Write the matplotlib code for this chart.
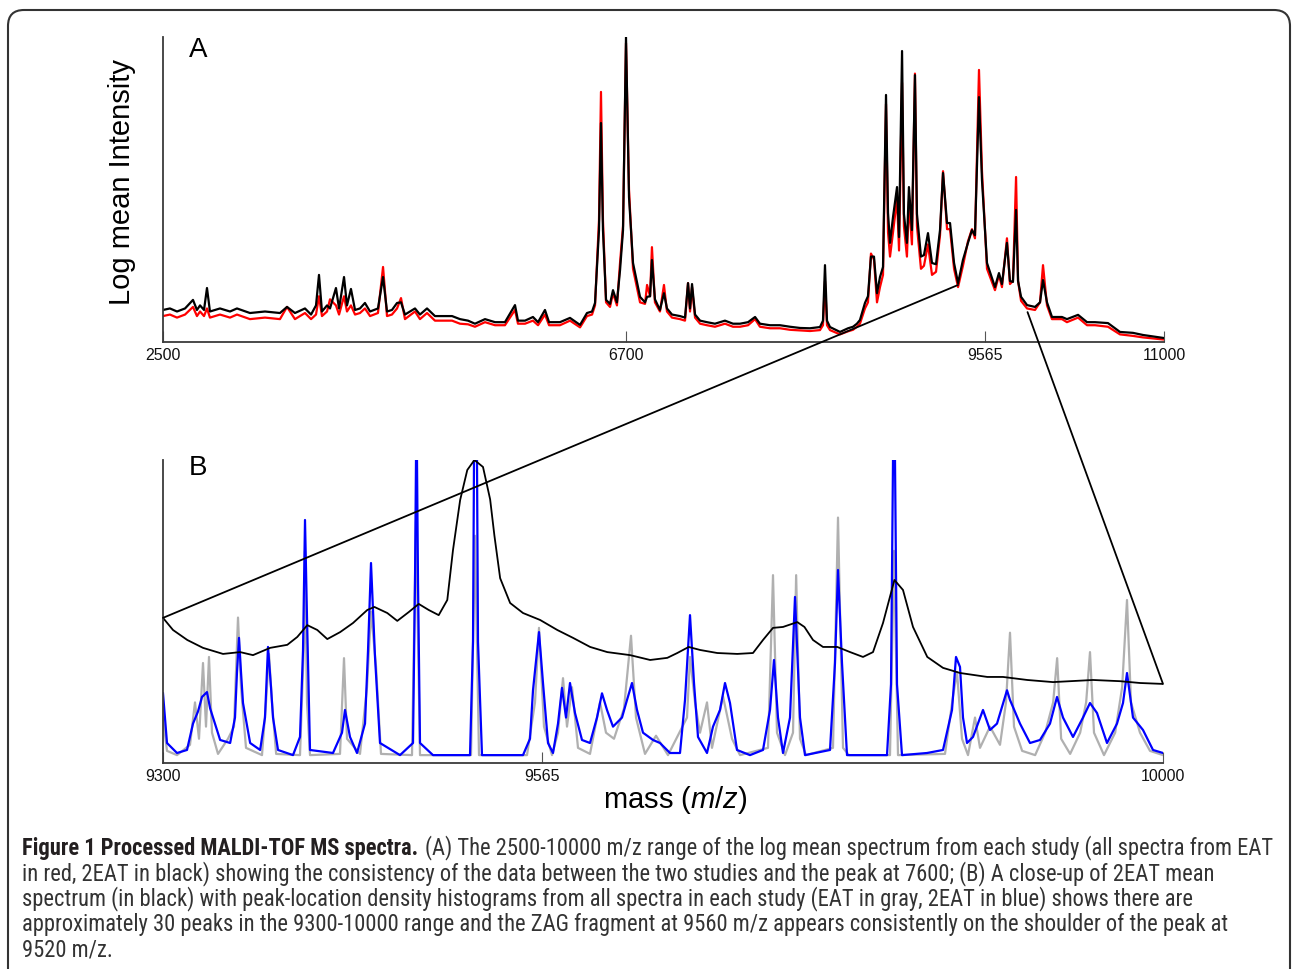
import matplotlib
matplotlib.use("Agg")
import matplotlib.pyplot as plt
import numpy as np
from matplotlib import font_manager
from matplotlib.patches import FancyBboxPatch, ConnectionPatch
from matplotlib.transforms import IdentityTransform

# ---- panel A: log mean spectra (m/z, intensity in % of axis height)
A_MZ = [2500, 2563, 2627, 2700, 2772, 2808, 2836, 2872, 2899, 2926, 3017, 3108, 3171, 3289, 3425,
        3561, 3625, 3697, 3788, 3843, 3888, 3915, 3942, 3988, 4015, 4069, 4097, 4142, 4169, 4205,
        4242, 4287, 4332, 4378, 4450, 4496, 4532, 4577, 4623, 4659, 4695, 4786, 4831, 4895, 4967,
        5040, 5122, 5194, 5267, 5330, 5421, 5512, 5602, 5693, 5720, 5784, 5856, 5902, 5965, 6002,
        6101, 6192, 6283, 6346, 6392, 6419, 6455, 6473, 6491, 6519, 6555, 6582, 6618, 6646, 6673,
        6700, 6724, 6756, 6812, 6852, 6868, 6892, 6907, 6931, 6971, 7003, 7027, 7067, 7131, 7171,
        7195, 7211, 7227, 7251, 7291, 7346, 7410, 7490, 7554, 7610, 7674, 7730, 7769, 7849, 7929,
        8009, 8089, 8168, 8248, 8272, 8288, 8304, 8328, 8408, 8472, 8512, 8543, 8567, 8607, 8631,
        8655, 8679, 8703, 8727, 8751, 8775, 8791, 8807, 8831, 8863, 8879, 8903, 8918, 8942, 8958,
        8982, 9006, 9022, 9054, 9078, 9110, 9142, 9174, 9206, 9230, 9262, 9286, 9318, 9350, 9389,
        9429, 9461, 9485, 9509, 9517, 9541, 9581, 9645, 9677, 9701, 9741, 9765, 9789, 9814, 9830,
        9854, 9902, 9966, 10006, 10030, 10062, 10102, 10182, 10222, 10311, 10383, 10447, 10551,
        10647, 10751, 10832, 11000]
A_BLACK = [10.5, 11, 10, 11, 13.8, 10.5, 12, 10.5, 17.7, 10, 11, 10, 11, 9.5, 10,
           9.5, 11.5, 9.5, 11, 9, 12, 22, 10, 12, 11, 17.7, 11, 21.3, 12, 17.4,
           10.5, 11, 12.8, 10, 11, 21.3, 10, 10.5, 12.8, 13, 9, 11, 9, 11, 8.5,
           8.5, 8.5, 7.5, 7, 6, 7.5, 6.5, 6.5, 12.1, 7, 7, 8.2, 6.5, 10.5, 6.5,
           6.5, 7.9, 5.6, 9.5, 10, 12.8, 36.7, 71.8, 36.7, 13.8, 12.5, 17, 13, 23.6, 36.7,
           100, 47.5, 25.9, 14.8, 13, 14.8, 15, 26.9, 14, 10.5, 16, 11, 9, 8.5, 8,
           19.3, 11, 19, 9, 7, 6.5, 6, 7, 6, 6, 6.5, 8.2, 6, 5.5, 5.5,
           5, 4.6, 4.5, 4.9, 7, 25.2, 7, 4.9, 3.3, 4.5, 5, 6, 7.2, 12.8, 15,
           28, 28, 16, 21.3, 24.6, 81, 42.3, 32.5, 41, 50.8, 34.4, 95.4, 42, 32.5, 50.8,
           36.7, 87.5, 42, 28, 28.5, 35.7, 25.9, 25.5, 36.7, 55.4, 39, 39, 25.9, 19.3, 26.9,
           32.5, 36.7, 35, 69.5, 80.3, 53, 25.9, 18, 22.6, 19, 32.5, 20, 19.7, 43.3, 20,
           14.8, 12.1, 11.5, 13, 20.3, 13, 8.2, 8.2, 7.5, 8.9, 6.5, 6.5, 6.2,
           3.3, 3, 2.3, 1.3]
A_RED = [8.5, 9, 8, 9, 11.5, 8.5, 10, 8.5, 11, 8, 9, 8, 9, 7.5, 8,
         7.5, 11.5, 7.5, 9.5, 7.5, 9, 15, 8.5, 10, 14, 12, 9, 15, 10, 12,
         9, 9.5, 11, 8.5, 9.5, 24.6, 8.5, 9, 11, 14.4, 7.5, 10, 7.5, 9.5, 7,
         7, 7, 6, 5.8, 5, 6.5, 5.5, 5.5, 10.5, 6, 6, 7, 5.5, 9, 5.5,
         5.5, 7, 4.8, 8.5, 9, 12, 40, 82, 40, 13, 11.5, 16, 12, 26, 38,
         98, 50, 24, 13, 12.5, 18.7, 15, 31.1, 13, 10, 18.7, 10, 8, 7.5, 7,
         19.3, 10, 18, 8, 6, 5.5, 5, 6, 5, 5, 5.5, 7.5, 5, 4.5, 4.5,
         4, 3.8, 3.6, 3.9, 5.5, 20, 5.5, 3.9, 2.5, 3.5, 4, 5, 6, 11, 13,
         29, 27, 13, 18, 22, 78, 36, 28, 36, 47, 30, 85, 38, 28, 46,
         32, 88, 38, 24, 25, 32, 22, 23, 35, 56, 37, 37, 24, 18, 25,
         33, 37, 34, 75, 89.2, 56, 24, 17, 22, 18, 34, 19, 20, 54.1, 20,
         13.5, 11, 10.5, 13, 25.2, 12, 7.5, 7.5, 6.5, 8, 5.5, 5.5, 5,
         2.5, 2, 1.5, 0.8]
A_TICKS = [2500, 6700, 9565, 11000]

# ---- panel B: close-up 9300-10000
B_MEAN_MZ = [9300, 9307, 9317, 9328, 9342, 9354, 9363, 9375, 9387, 9394, 9401, 9408, 9415, 9424,
             9433, 9443, 9448, 9457, 9464, 9472, 9479, 9486, 9493, 9499, 9503, 9508, 9513, 9518,
             9524, 9529, 9532, 9536, 9543, 9552, 9564, 9576, 9587, 9599, 9611, 9627, 9641, 9653,
             9660, 9668, 9676, 9688, 9702, 9713, 9720, 9727, 9734, 9744, 9749, 9755, 9762, 9772,
             9781, 9790, 9797, 9804, 9812, 9818, 9825, 9835, 9846, 9858, 9877, 9888, 9905, 9923,
             9951, 9970, 9984, 10000]
B_MEAN = [47.9, 43.9, 40.6, 38.0, 36.0, 36.6, 35.6, 38.0, 39.0, 41.6, 45.5, 43.9, 40.9, 43.2,
          46.2, 50.5, 51.5, 49.5, 46.9, 49.8, 52.5, 50.5, 48.8, 53.8, 70.3, 86.8, 96.7, 100,
          97.7, 87, 75, 61, 52.8, 49.5, 47.2, 43.9, 41.3, 38.3, 36.6, 35.6, 34.0, 34.7,
          36.3, 38.3, 37.3, 36.3, 36.0, 36.3, 40.6, 44.6, 44.9, 46.5, 44.9, 40.6, 38.3, 38.3,
          36.6, 35.0, 36.6, 46.2, 60.4, 57.1, 44.9, 35.0, 31.4, 29.7, 28.4, 28.4, 27.4, 26.7,
          27.4, 27.0, 26.4, 26.1]

B_BLUE_MZ = [9300, 9302.8, 9309.8, 9316.8, 9321, 9324.5, 9327.3, 9330.8, 9333, 9335, 9340, 9347,
             9350.4, 9351.8, 9353.2, 9354.6, 9356, 9361, 9368, 9371.4, 9373.5, 9375.6, 9377, 9380.5,
             9391, 9395.9, 9398, 9399.4, 9400.8, 9402.9, 9419, 9425.3, 9427.4, 9430.9, 9435.8,
             9441.4, 9443.5, 9445.6, 9448.4, 9451.9, 9465.9, 9475, 9476.4, 9477.1, 9477.8, 9478.5,
             9479.9, 9489, 9514.9, 9517, 9517.7, 9519.8, 9520.5, 9523.3, 9552, 9556.9, 9559, 9563.2,
             9566, 9569.5, 9573, 9576.5, 9579.3, 9582.1, 9584.9, 9588.4, 9593.3, 9598.9, 9603.8,
             9607.3, 9610.8, 9615, 9621.3, 9624.8, 9628.3, 9631.8, 9636, 9643, 9647.9, 9654.9,
             9661.9, 9665.4, 9668.9, 9671.7, 9674.5, 9680.8, 9685, 9689.9, 9693.4, 9696.9, 9701.8,
             9710.9, 9720, 9724.9, 9727.7, 9730.5, 9734, 9738.9, 9742.4, 9745.9, 9749.4, 9766.9,
             9770.4, 9772.5, 9775.3, 9778.8, 9806.8, 9809.6, 9811, 9812.4, 9813.8, 9817.3, 9834.8,
             9846, 9852.3, 9855.1, 9857.9, 9860, 9862.8, 9867, 9874, 9878.9, 9883.8, 9890.8,
             9892.9, 9899.9, 9906.9, 9913.9, 9920.9, 9925.8, 9930, 9937, 9944, 9948.9, 9953.8,
             9960.8, 9967.8, 9972, 9974.8, 9979, 9986, 9993, 10000]
B_BLUE = [23, 6.6, 3.3, 4.3, 13, 17, 21.8, 23.4, 18, 15, 7.6, 6.6,
          15, 30, 41.3, 30, 19.8, 6.6, 4.3, 15, 38.3, 25, 15, 4.3,
          2.6, 8.6, 37, 80.2, 48, 4.3, 3.3, 10, 17.5, 8.6, 3.3,
          13, 37, 66, 35, 6.6, 2.6, 6.6, 60, 100, 100, 60,
          6.6, 2.6, 2.6, 40, 100, 100, 40, 2.6, 2.6, 8, 24, 43.2,
          26.4, 6.6, 3.3, 13, 24.8, 15, 26.4, 16.5, 7.6, 6.6, 15,
          23, 17.5, 12, 15, 20.8, 26.4, 17.5, 10, 7.6, 6.6, 3.3,
          3.3, 20.8, 48.8, 26.4, 8.6, 3.3, 12, 17.5, 26.4, 19.8, 4.3,
          2.6, 4.3, 17.5, 34, 15, 3.3, 15, 54.8, 15, 2.6, 4.3,
          33, 63.7, 33, 2.6, 2.6, 26, 100, 100, 26, 2.6, 3.3,
          4.3, 17.5, 35, 31.7, 15, 6.6, 8.6, 17.5, 10.9, 13, 24,
          20.8, 13, 6.6, 7.6, 13, 21.8, 15, 8.6, 15, 19.8, 16.5,
          6.6, 13, 19.8, 29.7, 15, 10.9, 4.3, 3.3]

B_GRAY_MZ = [9300, 9302.8, 9309.8, 9318.9, 9322.4, 9325.2, 9328, 9330.1, 9332.2, 9334.3, 9338.5,
             9345.5, 9349.7, 9352.5, 9354.6, 9358.1, 9369.3, 9372.1, 9374.2, 9376.3, 9379.2,
             9395.9, 9398.7, 9399.4, 9400.8, 9402.9, 9423.9, 9426.7, 9428.8, 9437.9, 9442.8,
             9445.6, 9449.1, 9452.6, 9474.3, 9477.1, 9479.9, 9515.6, 9518.4, 9521.2, 9554.8,
             9560.4, 9563.2, 9566.7, 9572.3, 9576.5, 9580, 9582.8, 9586.3, 9590.5, 9598.9, 9605.9,
             9610.1, 9615.7, 9622.7, 9627.6, 9631.1, 9637.4, 9645.1, 9653.5, 9666.8, 9668.9,
             9672.4, 9675.9, 9680.8, 9684.3, 9692, 9698.3, 9703.9, 9723.5, 9727, 9729.8, 9735.4,
             9741, 9743.2, 9745.9, 9750.1, 9769, 9772.5, 9776, 9780.2, 9808.9, 9811.7, 9814.5,
             9847.4, 9853, 9855.8, 9859.3, 9863.5, 9868.4, 9871.9, 9878.9, 9885.9, 9890.1, 9892.9,
             9895.7, 9901.4, 9910.5, 9917.5, 9923.1, 9925.9, 9928.7, 9935, 9942, 9946.2, 9948.9,
             9951.7, 9958.7, 9966.5, 9971.4, 9974.8, 9977.6, 9983.9, 9990.9, 10000]
B_GRAY = [15, 4, 2.6, 6, 20, 8, 33, 12, 35, 10, 3,
          8, 12, 48, 25, 5, 2.6, 20, 36, 20, 3,
          2.6, 40, 70, 20, 2.6, 3, 34.6, 8, 3, 25,
          50, 32, 3, 2.6, 80, 2.6, 2.6, 75, 2.6, 2.6,
          20, 44.6, 12, 2.6, 10, 28, 12, 25, 5, 3, 20,
          10, 8, 18, 42, 15, 3, 9, 2.6, 15, 35,
          20, 10, 20, 5, 22, 8, 2.6, 5, 62, 10, 2.6,
          10, 62, 8, 2.6, 5, 81, 5, 2.6, 2.6, 70, 2.6,
          3, 22, 30, 8, 2.6, 15, 5, 12, 6, 20, 43,
          12, 4, 2.6, 10, 20, 34.6, 8, 3, 10, 20, 36.6,
          10, 2.6, 10, 25, 53.8, 20, 10, 4, 2.6]
B_TICKS = [9300, 9565, 10000]

# zoom lines: point on spectrum A -> end of mean curve in B
ZOOM_A = [(9350, 18.7), (9906, 9.8)]
ZOOM_B = [(9300, 47.9), (10000, 26.1)]

CAPTION_BOLD = "Figure 1 Processed MALDI-TOF MS spectra."
CAPTION_LINES = [
    "(A) The 2500-10000 m/z range of the log mean spectrum from each study (all spectra from EAT",
    "in red, 2EAT in black) showing the consistency of the data between the two studies and the peak at 7600; (B) A close-up of 2EAT mean",
    "spectrum (in black) with peak-location density histograms from all spectra in each study (EAT in gray, 2EAT in blue) shows there are",
    "approximately 30 peaks in the 9300-10000 range and the ZAG fragment at 9560 m/z appears consistently on the shoulder of the peak at",
    "9520 m/z.",
]

W, H = 1293, 969
plt.rcParams['font.family'] = ['Liberation Sans', 'DejaVu Sans']
plt.rcParams['mathtext.fontset'] = 'custom'
plt.rcParams['mathtext.rm'] = 'Liberation Sans'
plt.rcParams['mathtext.it'] = 'Liberation Sans:italic'

names = {f.name for f in font_manager.fontManager.ttflist}
cap_font = 'Liberation Sans'
for cand in ['Liberation Sans Narrow', 'Roboto Condensed', 'Open Sans Condensed', 'DejaVu Sans Condensed']:
    if cand in names:
        cap_font = cand
        break

fig = plt.figure(figsize=(W / 100, H / 100), dpi=100)
fig.patch.set_facecolor('white')


def fx(px):
    return px / W


def fy(py):
    return 1 - py / H


def style_axes(ax):
    for s in ['top', 'right']:
        ax.spines[s].set_visible(False)
    for s in ['left', 'bottom']:
        ax.spines[s].set_color('#3a3a3a')
        ax.spines[s].set_linewidth(1.3)
    ax.set_yticks([])
    ax.tick_params(axis='x', direction='in', length=8, width=0.8, color='#555555',
                   labelsize=11.5, pad=4, labelcolor='#111111')


# panel A
axA = fig.add_axes([fx(163), fy(342), fx(1164) - fx(163), fy(37) - fy(342)])
pos_mz = A_TICKS
pos_px = [0, 463, 822, 1001]


def fwd(x):
    return np.interp(x, pos_mz, pos_px)


def inv(p):
    return np.interp(p, pos_px, pos_mz)


axA.set_xscale('function', functions=(fwd, inv))
axA.plot(A_MZ, A_RED, color='#ff0000', lw=1.6)
axA.plot(A_MZ, A_BLACK, color='black', lw=1.6)
axA.set_xlim(2500, 11000)
axA.set_ylim(0, 100)
axA.set_xticks(A_TICKS)
axA.set_xticklabels([str(t) for t in A_TICKS])
axA.xaxis.set_minor_locator(matplotlib.ticker.NullLocator())
style_axes(axA)

# panel B
axB = fig.add_axes([fx(163), fy(763), fx(1163) - fx(163), fy(460) - fy(763)])
axB.plot(B_GRAY_MZ, B_GRAY, color='#b0b0b0', lw=1.6)
axB.plot(B_BLUE_MZ, B_BLUE, color='#0000ff', lw=1.6)
axB.plot(B_MEAN_MZ, B_MEAN, color='black', lw=1.3)
axB.set_xlim(9300, 10000)
axB.set_ylim(0, 100)
axB.set_xticks(B_TICKS)
axB.set_xticklabels([str(t) for t in B_TICKS])
style_axes(axB)

for a, b in zip(ZOOM_A, ZOOM_B):
    con = ConnectionPatch(xyA=a, coordsA='data', axesA=axA, xyB=b, coordsB='data', axesB=axB,
                          color='black', lw=1.3)
    fig.add_artist(con)

# labels
fig.text(fx(198), fy(50), 'A', fontsize=20, ha='center', va='center')
fig.text(fx(198), fy(468), 'B', fontsize=20, ha='center', va='center')
fig.text(fx(122), fy(182), 'Log mean Intensity', fontsize=21, rotation=90, ha='center', va='center')
fig.text(fx(675), fy(800), r'mass ($\mathit{m/z}$)', fontsize=21, ha='center', va='center')

# rounded frame
frame = FancyBboxPatch((8, -40), 1282, H - 10 + 40, boxstyle='round,pad=0,rounding_size=16',
                       transform=IdentityTransform(), facecolor='none', edgecolor='#333333', lw=1.5)
fig.add_artist(frame)

# caption, sized so that the first line spans the frame
renderer = fig.canvas.get_renderer()
x0, x1 = 22, 1270
size = 10
t_b = fig.text(fx(x0), fy(848), CAPTION_BOLD, fontsize=size, fontweight='bold',
               family=[cap_font, 'DejaVu Sans'], color='#231f20', va='center')
t_r = fig.text(0, fy(848), CAPTION_LINES[0], fontsize=size,
               family=[cap_font, 'DejaVu Sans'], color='#333333', va='center')
wb = t_b.get_window_extent(renderer).width
wr = t_r.get_window_extent(renderer).width
gap = 0.3
size = size * (x1 - x0) / (wb + wr + gap * size * 100 / 72)
t_b.set_fontsize(size)
t_r.set_fontsize(size)
wb = t_b.get_window_extent(renderer).width
t_r.set_x(fx(x0 + wb + gap * size * 100 / 72))
for i, line in enumerate(CAPTION_LINES[1:]):
    fig.text(fx(x0), fy(848 + 25.5 * (i + 1)), line, fontsize=size,
             family=[cap_font, 'DejaVu Sans'], color='#333333', va='center')

fig.savefig('out.png', dpi=100)
